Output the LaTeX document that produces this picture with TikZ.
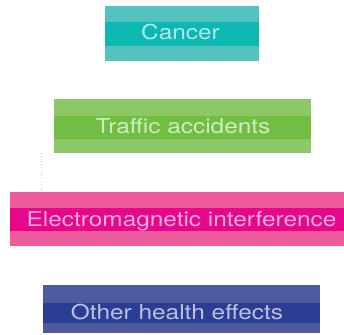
\documentclass[tikz,border=0pt]{standalone}
\usepackage{fontspec}
\setmainfont{TeX Gyre Heros}
\usepackage{xcolor}
\usetikzlibrary{positioning}

\definecolor{cancerlight}{HTML}{52C2BF}
\definecolor{cancerdark}{HTML}{0DB7B2}
\definecolor{trafficlight}{HTML}{8DC766}
\definecolor{trafficdark}{HTML}{70BF42}
\definecolor{emlight}{HTML}{EE5B9D}
\definecolor{emdark}{HTML}{E8068B}
\definecolor{otherlight}{HTML}{4D5A9F}
\definecolor{otherdark}{HTML}{2B3E95}

\newcommand{\widetext}[1]{\scalebox{1.19}[1]{#1}}

\tikzset{
	riskbox/.style={draw=none, fill=#1, inner sep=0pt, outer sep=0pt},
	risklabel/.style={inner sep=0pt, anchor=base, text=white!68!#1,
		font=\fontsize{20.5}{24}\selectfont},
}

\begin{document}
\begin{tikzpicture}[x=1pt, y=-1pt]
				\useasboundingbox (0, 0) rectangle (344, 334);
				
				% boxes, with their darker middle bands
				\node[riskbox=cancerlight, minimum width=154pt, minimum height=55pt] (cancer) at (182, 33.5) {};
				\fill[cancerdark] (105, 22) rectangle (259, 46);
				
				\node[riskbox=trafficlight, minimum width=257pt, minimum height=54pt] (traffic) at (182.5, 126) {};
				\fill[trafficdark] (54, 116) rectangle (311, 139);
				
				\node[riskbox=emlight, minimum width=334pt, minimum height=54pt] (em) at (177, 219) {};
				\fill[emdark] (10, 208) rectangle (344, 231);
				
				\node[riskbox=otherlight, minimum width=277pt, minimum height=48pt] (other) at (181.5, 309) {};
				\fill[otherdark] (43, 303) rectangle (320, 323);
				
				% labels
				\node[risklabel=cancerdark] (cancerlbl) at (180.5, 40) {\widetext{Cancer}};
				\node[risklabel=trafficdark] (trafficlbl) at (183, 133) {\widetext{Traffic accidents}};
				\node[risklabel=emdark] (emlbl) at (181.5, 226) {\widetext{Electromagnetic interference}};
				\node[risklabel=otherdark] (otherlbl) at (177, 319) {\widetext{Other health effects}};
				
				% faint dotted guide
				\coordinate (guidetop) at (41.5, 153);
				\coordinate (guidebot) at (41.5, 190);
				\draw[gray!35, dotted, line width=0.8pt] (guidetop) -- (guidebot);
				
			\end{tikzpicture}
\end{document}
